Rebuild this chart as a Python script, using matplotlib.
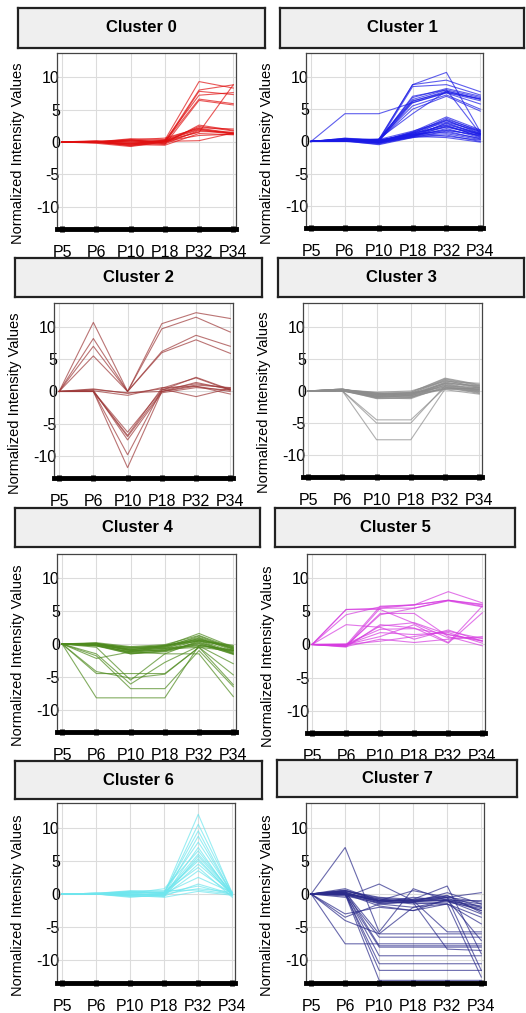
import matplotlib
matplotlib.use("Agg")
import matplotlib.pyplot as plt

plt.rcParams['font.family'] = ['Liberation Sans', 'DejaVu Sans']

W, H = 526, 1013

samples = ['P5', 'P6', 'P10', 'P18', 'P32', 'P34']
y_ticks = [10, 5, 0, -5, -10]
y_tick_labels = ['10', '5', '0', '-5', '-10']

# profiles, one list per gene (P5..P34)
cluster0 = [
    [0, 0, 0.2, 0.3, 9.3, 8.3], [0, 0, -0.3, 0, 8.0, 8.8], [0, 0.1, 0, -0.2, 7.8, 7.3],
    [0, 0, -0.5, 0.2, 7.2, 7.6], [0, 0, 0.3, 0, 6.6, 5.9], [0, -0.1, -0.2, -0.4, 6.4, 5.7],
    [0, 0, 0, 0.2, 1.5, 8.8], [0, 0, -0.6, 0, 2.4, 1.7], [0, 0.1, -0.3, 0.3, 2.0, 1.3],
    [0, 0, 0.4, -0.3, 1.8, 1.2], [0, -0.2, -0.7, 0, 1.6, 1.5], [0, 0, 0.5, 0.4, 2.2, 2.0],
    [0, 0, -0.4, -0.5, 1.3, 1.1], [0, 0.2, 0, 0.1, 0.2, 1.4], [0, 0, -0.2, 0.2, 1.9, 1.3],
    [0, 0, 0.2, -0.2, 2.6, 1.8], [0, -0.1, -0.5, 0.1, 1.0, 1.2], [0, 0, 0.3, 0.6, 2.1, 1.4],
]
cluster1 = [
    [0, 4.3, 4.3, 6.0, 7.6, 6.6], [0, 0.2, 0.3, 8.8, 10.7, 1.5], [0, 0, 0.2, 8.8, 9.5, 7.7],
    [0, 0.1, 0, 8.5, 8.8, 7.2], [0, 0, 0.3, 6.5, 8.0, 6.8], [0, 0.2, 0.1, 6.2, 7.8, 6.5],
    [0, 0, 0, 6.0, 7.5, 5.8], [0, 0.1, 0.3, 5.5, 7.2, 5.0], [0, 0, 0.2, 5.0, 7.0, 4.7],
    [0, 0, 0.4, 4.3, 7.8, 6.6], [0, 0.1, 0.2, 6.8, 8.2, 7.0], [0, 0, 0.1, 7.0, 8.0, 1.2],
    [0, 0.2, 0.3, 6.3, 7.6, 6.3],
    [0, 0.3, 0.0, 1.2, 3.6, 1.5], [0, 0.2, -0.2, 1.0, 3.3, 1.2], [0, 0.5, 0.1, 1.4, 3.0, 1.6],
    [0, 0.1, -0.3, 0.9, 2.8, 1.0], [0, 0.4, 0.2, 1.1, 2.6, 1.3], [0, 0.2, -0.1, 0.8, 2.4, 0.8],
    [0, 0.3, 0.0, 1.3, 2.2, 1.1], [0, 0.0, -0.4, 0.7, 2.0, 0.6], [0, 0.2, 0.2, 1.0, 1.8, 0.9],
    [0, 0.1, -0.2, 0.6, 1.6, 0.4], [0, 0.4, 0.0, 1.5, 3.8, 1.8], [0, 0.3, -0.1, 1.2, 1.4, 0.5],
    [0, 0.2, 0.1, 0.9, 1.2, 0.3], [0, 0.1, -0.5, 0.6, 1.0, 0.0], [0, 0.3, 0.2, 1.1, 0.8, 0.2],
    [0, 0.2, -0.3, 0.8, 0.6, -0.1], [0, 0.5, 0.3, 1.6, 3.2, 1.4], [0, 0.1, 0.0, 0.7, 2.9, 1.1],
    [0, 0.2, -0.2, 1.3, 2.5, 0.7], [0, 0.3, 0.1, 1.0, 1.7, 1.0], [0, 0.4, -0.1, 1.4, 3.4, 1.7],
    [0, 0.2, 0.0, 0.8, 2.3, 1.2],
]
cluster2 = [
    [0, 10.7, 0, 10.5, 12.2, 11.3], [0, 8.2, 0, 9.7, 11.5, 9.2], [0, 7.0, 0, 6.2, 8.7, 7.0],
    [0, 5.5, 0, 6.0, 8.0, 5.9],
    [0, 0, -6.3, 0.2, 2.2, 0.3], [0, 0, -7.0, 0, 1.0, 0.6], [0, 0.2, -7.5, -0.2, 0.6, 0.2],
    [0, 0, -9.8, 0.3, 1.2, 0.5], [0, 0, -11.8, 0, 0.8, 0], [0, 0, -6.8, 0.5, 2.1, 0.2],
    [0, 0.4, -0.3, 0.4, -0.8, 0.5], [0, 0.1, -0.6, 0.6, 0.8, -0.4], [0, 0.3, -0.2, 0, 1.4, 0.3],
]
cluster3 = [
    [0, 0, -4.5, -4.5, 0.5, 0.3], [0, 0, -5.0, -5.0, 0.8, 0.5], [0, 0, -7.6, -7.6, 0.3, 0],
    [0, 0.2, -0.3, -0.2, 2.0, 1.0], [0, 0.1, -0.5, -0.4, 1.8, 0.8], [0, 0.3, -0.7, -0.6, 1.6, 0.6],
    [0, 0.0, -0.9, -0.8, 1.4, 0.4], [0, 0.2, -1.1, -1.0, 1.2, 0.2], [0, 0.1, -1.2, -1.1, 1.0, 0.0],
    [0, 0.2, -0.4, -0.5, 0.8, -0.2], [0, 0.3, -0.6, -0.3, 0.6, -0.4], [0, 0.0, -0.8, -0.7, 0.4, 0.3],
    [0, 0.1, -1.0, -0.9, 0.3, 0.5], [0, 0.2, -0.2, 0.0, 1.5, 1.2], [0, 0.1, -0.6, -0.2, 1.9, 0.9],
    [0, 0.3, -0.9, -0.5, 1.1, 0.1], [0, 0.0, -1.1, -1.2, 0.7, -0.3], [0, 0.2, -0.5, -0.6, 1.3, 0.7],
    [0, 0.1, -0.8, -0.4, 1.7, 0.5], [0, 0.2, -0.3, -0.8, 0.9, -0.1], [0, 0.1, -0.7, -1.0, 0.5, 0.2],
    [0, 0.3, -1.0, -0.7, 1.2, 0.8], [0, 0.0, -0.4, -0.3, 0.2, -0.5],
]
cluster4 = [
    [0, -8.2, -8.2, -8.2, -0.2, -1.0], [0, -4.2, -5.2, -4.6, -0.5, -6.2], [0, -1.8, -6.8, -6.8, -1.0, -6.5],
    [0, -1.5, -6.1, -2.8, -0.3, -3.0], [0, -4.5, -4.5, -4.5, -0.5, -4.7], [0, -0.5, -5.5, -1.5, -1.5, -8.0],
    [0, -2.2, -1.2, -1.5, 0.5, -1.5],
    [0, 0.0, -0.5, -0.3, 1.6, -0.5], [0, -0.1, -0.8, -0.5, 1.2, -0.8], [0, 0.1, -1.0, -0.7, 0.9, -1.0],
    [0, -0.2, -1.2, -0.9, 0.6, -1.2], [0, 0.0, -1.4, -1.1, 0.3, -1.4], [0, -0.3, -1.5, -1.2, 0.0, -1.5],
    [0, 0.1, -0.6, -0.2, 0.4, -0.3], [0, -0.1, -0.9, -0.4, 0.7, -0.6], [0, 0.0, -1.1, -0.6, -0.2, -0.9],
    [0, -0.2, -1.3, -0.8, -0.5, -1.1], [0, 0.1, -0.7, -0.3, 1.0, -0.7], [0, 0.0, -1.0, -1.0, 0.2, -1.3],
    [0, -0.1, -0.5, -0.5, 0.5, -0.4], [0, -0.3, -1.2, -0.3, 0.8, -0.8], [0, 0.0, -0.8, -0.7, -0.3, -1.0],
    [0, 0.2, -0.4, -0.1, 1.3, -0.6], [0, -0.2, -1.5, -1.0, 0.1, -1.6], [0, 0.0, -0.9, -0.2, 0.6, -0.2],
]
cluster5 = [
    [0, 5.3, 5.5, 6.0, 8.0, 6.3], [0, 4.5, 5.7, 6.0, 6.7, 6.0], [0, -0.3, 5.5, 5.5, 6.7, 5.8],
    [0, -0.2, 4.5, 5.5, 6.6, 5.7], [0, 3.0, 2.6, 0.8, 2.2, 0.5], [0, -0.2, 2.8, 3.3, 1.5, 0.6],
    [0, -0.4, 3.0, 2.5, 0.2, 4.8], [0, 0, 1.2, 3.0, 0.3, 5.8], [0, -0.3, 0.8, 0.3, 0.8, 1.2],
    [0, 0, 1.8, 1.5, 1.8, 0.2], [0, -0.2, 4.7, 4.7, 1.2, -0.2], [0, 0, 0.5, 1.2, 2.0, 0.9],
    [0, 5.3, 5.3, 3.2, 1.0, 1.0], [0, 0.1, 2.3, 2.4, 1.5, 0.5], [0, -0.1, 5.8, 6.0, 6.7, 6.1],
]
cluster6 = [
    [0, 0, 0.2, 0.1, 12.0, 0], [0, 0.1, -0.2, 0, 10.5, 0.2], [0, 0, 0.3, 0.2, 9.5, -0.1],
    [0, 0, -0.3, -0.2, 8.7, 0], [0, 0.1, 0.5, 0.4, 7.8, 0.1], [0, 0, -0.4, -0.3, 7.0, -0.3],
    [0, 0, 0.1, 0.8, 6.5, 0], [0, 0.1, -0.1, 0, 6.0, 0.2], [0, 0, 0.2, -0.4, 5.7, 0],
    [0, 0, -0.2, 0.1, 5.3, -0.2], [0, 0.1, 0.4, 0.2, 5.0, 0], [0, 0, -0.5, -0.1, 4.5, 0.1],
    [0, 0, 0.1, 0.3, 4.0, -0.5], [0, 0.1, 0, -0.2, 3.5, 0], [0, 0, 0.3, 0.1, 2.5, 0.2],
    [0, 0, -0.3, -0.3, 1.5, 0], [0, 0.1, 0.2, 0.2, 1.2, -0.1], [0, 0, -0.1, 0, 0.8, 0.3],
    [0, 0, 0.4, 0.5, 0.6, 0], [0, 0.1, -0.2, -0.5, 0.4, -0.2],
]
cluster7 = [
    [0, 7.0, -5.7, 0.8, -1.0, -2.0], [0, -7.5, -7.5, -7.5, -7.5, -7.5], [0, 0.3, -6.0, -6.0, -6.0, -6.0],
    [0, 0, -6.5, -6.5, -6.5, -6.5], [0, 0.5, -7.8, -7.8, -7.8, -7.8], [0, 0, -8.0, -8.0, -8.0, -8.0],
    [0, 0.2, -9.3, -9.3, -9.3, -9.3], [0, 0, -10.5, -10.5, -10.5, -10.5], [0, 0.1, -11.5, -11.5, -11.5, -11.5],
    [0, 0, -13.0, -13.0, -13.0, -13.0], [0, -0.5, 1.5, -1.0, -1.0, -2.5], [0, -3.0, -2.0, -2.5, -1.5, -4.5],
    [0, -3.5, -1.5, -2.0, -1.0, -3.0], [0, 0, -1.0, -1.0, -5.7, -5.7], [0, 0.3, -1.2, -1.3, -8.3, -8.5],
    [0, 0, -1.5, -1.2, -0.5, -11.5], [0, 0.5, -0.5, -0.8, 1.2, -9.0], [0, 0.8, -1.0, -0.8, -0.5, 0.2],
    [0, 0.5, -0.8, -1.2, -0.8, -1.5], [0, 0.2, -1.2, -1.0, -0.3, -2.0], [0, 0, -1.0, -1.5, -1.2, -2.2],
    [0, -0.3, -1.3, -0.5, -1.0, -1.8], [0, 0.4, -0.6, -1.0, -0.6, -2.5], [0, 0, -1.8, -2.5, -0.8, -7.0],
    [0, -0.2, -1.0, 0.5, -0.5, -1.2], [0, 0.3, -1.4, -1.2, 0.2, -1.5], [0, -4.0, -6.0, -2.0, -1.5, -3.5],
    [0, 0.1, -0.9, -1.1, -1.0, -1.0], [0, 0.6, -1.1, -0.9, -0.2, -2.8], [0, 0, -0.7, -1.3, -1.5, -12.5],
]

clusters = [cluster0, cluster1, cluster2, cluster3, cluster4, cluster5, cluster6, cluster7]
colors = ['#e01010', '#1a1ae6', '#9e3a3a', '#8c8c8c', '#4e8a1e', '#d63ce0', '#6fe6ee', '#2b2b8a']

# pixel boxes: (title x0, x1, y0, y1), (axes x0, x1, y0, y1)
title_boxes = [(18, 265, 8, 48), (280, 524, 8, 48), (15, 262, 258, 297), (278, 524, 258, 297),
               (15, 260, 508, 547), (275, 515, 508, 547), (15, 262, 761, 799), (277, 517, 760, 797)]
axes_boxes = [(57, 236, 53, 229), (306, 483, 53, 228), (54, 233, 303, 478), (303, 482, 303, 477),
              (57, 236, 554, 732), (307, 485, 554, 733), (57, 235, 803, 983), (306, 484, 803, 983)]


def px_rect(b):
    x0, x1, y0, y1 = b
    return [x0 / W, 1 - y1 / H, (x1 - x0) / W, (y1 - y0) / H]


fig = plt.figure(figsize=(W / 100, H / 100), dpi=100)

for i, profiles in enumerate(clusters):
    # title box
    tax = fig.add_axes(px_rect(title_boxes[i]))
    tax.set_xticks([])
    tax.set_yticks([])
    tax.set_facecolor('#efefef')
    for s in tax.spines.values():
        s.set_linewidth(1.6)
        s.set_color('#222222')
    tax.text(0.5, 0.5, 'Cluster %d' % i, ha='center', va='center',
             fontsize=12, fontweight='bold', transform=tax.transAxes)

    ax = fig.add_axes(px_rect(axes_boxes[i]))
    x = range(len(samples))
    for p in profiles:
        ax.plot(x, p, color=colors[i], lw=0.8, alpha=0.7)
    ax.set_xlim(-0.15, 5.08)
    ax.set_ylim(-13.4, 13.7)
    ax.set_xticks(list(x))
    ax.set_xticklabels(samples, fontsize=11.5)
    ax.set_yticks(y_ticks)
    ax.set_yticklabels(y_tick_labels, fontsize=11.5)
    ax.grid(True, color='#dcdcdc', lw=0.8)
    ax.set_axisbelow(True)
    for s in ax.spines.values():
        s.set_linewidth(0.9)
        s.set_color('#444444')
    ax.spines['bottom'].set_linewidth(3.5)
    ax.spines['bottom'].set_color('black')
    ax.tick_params(axis='x', direction='inout', length=5, width=3.5, color='black', pad=9)
    ax.tick_params(axis='y', length=0, pad=-2)
    ax.set_ylabel('Normalized Intensity Values', fontsize=10.5)
    ax.yaxis.set_label_coords(-0.18, 0.43)

fig.savefig('out.png', dpi=100)
